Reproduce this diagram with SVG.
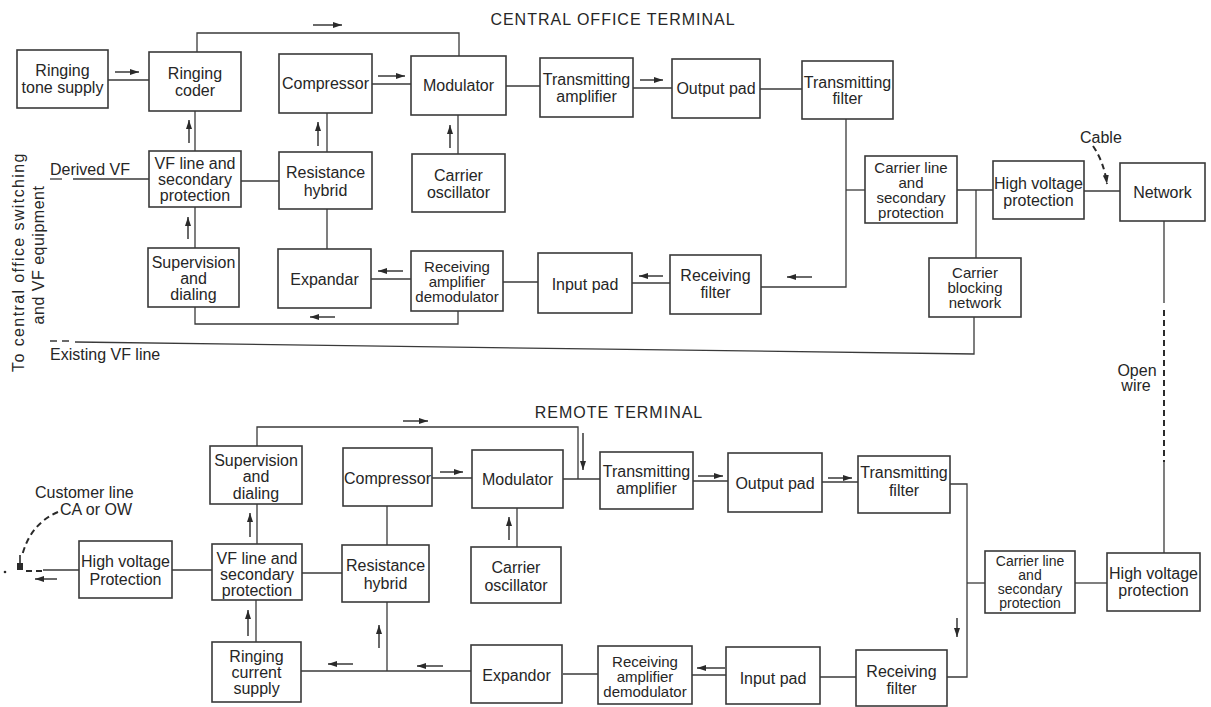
<svg xmlns="http://www.w3.org/2000/svg" width="1211" height="707" viewBox="0 0 1211 707">
<style>
  .box { fill: none; stroke: #3a3a3a; stroke-width: 1.6; }
  .ln { fill: none; stroke: #3a3a3a; stroke-width: 1.3; }
  .dash { fill: none; stroke: #2a2a2a; stroke-width: 2; stroke-dasharray: 6 4; }
  .arr { fill: none; stroke: #2a2a2a; stroke-width: 1.4; marker-end: url(#ah); }
  text { font-family: "Liberation Sans", Arial, sans-serif; fill: #262626; }
  .t { font-size: 16px; text-anchor: middle; }
  .s { font-size: 15px; text-anchor: middle; }
  .xs { font-size: 14px; text-anchor: middle; }
  .lbl { font-size: 16px; }
  .title { font-size: 16px; text-anchor: middle; letter-spacing: 1px; }
</style>
<defs>
  <marker id="ah" markerUnits="userSpaceOnUse" markerWidth="9" markerHeight="7" refX="9" refY="3.5" orient="auto">
    <path d="M0,0.5 L9,3.5 L0,6.5 z" fill="#2a2a2a"/>
  </marker>
</defs>
<rect width="1211" height="707" fill="#ffffff"/>

<!-- Titles and free labels -->
<g id="labels">
  <text class="title" x="613" y="25">CENTRAL OFFICE TERMINAL</text>
  <text class="title" x="619" y="418">REMOTE TERMINAL</text>
  <text class="lbl" x="50" y="175">Derived VF</text>
  <text class="lbl" x="50" y="360">Existing VF line</text>
  <text class="lbl" x="1080" y="143">Cable</text>
  <text class="lbl" x="1137" y="376" text-anchor="middle">Open</text>
  <text class="lbl" x="1136" y="391" text-anchor="middle">wire</text>
  <text class="lbl" x="35" y="498">Customer line</text>
  <text class="lbl" x="60" y="515">CA or OW</text>
  <text class="lbl" transform="translate(24,262) rotate(-90)" text-anchor="middle" letter-spacing="1.4">To central office switching</text>
  <text class="lbl" transform="translate(44,255) rotate(-90)" text-anchor="middle" letter-spacing="0.5">and VF equipment</text>
</g>

<!-- Connectors -->
<g id="connectors">
  <!-- central office -->
  <path class="ln" d="M108,80 H149"/>
  <path class="ln" d="M197,52 V33 H459 V56"/>
  <path class="ln" d="M372,84 H411"/>
  <path class="ln" d="M506,86 H540"/>
  <path class="ln" d="M633,88 H672"/>
  <path class="ln" d="M760,89 H802"/>
  <path class="ln" d="M195,111 V151"/>
  <path class="ln" d="M327,113 V152"/>
  <path class="ln" d="M458,115 V154"/>
  <path class="ln" d="M73,179 H149"/>
  <path class="ln" d="M50,179 H62"/>
  <path class="ln" d="M241,181 H279"/>
  <path class="ln" d="M195,207 V248"/>
  <path class="ln" d="M327,209 V249"/>
  <path class="ln" d="M371,279 H411"/>
  <path class="ln" d="M503,282 H538"/>
  <path class="ln" d="M632,283 H670"/>
  <path class="ln" d="M846,119 V287 H761"/>
  <path class="ln" d="M846,190 H865"/>
  <path class="ln" d="M957,190 H993"/>
  <path class="ln" d="M976,190 V258"/>
  <path class="ln" d="M1084,191 H1120"/>
  <path class="ln" d="M195,307 V324 H458 V311"/>
  <path class="ln" d="M974,317 V354 L75,342"/>
  <path class="ln" d="M50,341 H57 M62,341 H69"/>
  <path class="ln" d="M1164,221 V303"/>
  <path class="dash" d="M1164,310 V462"/>
  <path class="ln" d="M1164,462 V553"/>
  <path class="dash" d="M1093,146 Q1104,162 1107,184" marker-end="url(#ah)"/>
  <!-- remote -->
  <path class="ln" d="M257,446 V427 H578 V479"/>
  <path class="ln" d="M432,478 H472"/>
  <path class="ln" d="M563,479 H600"/>
  <path class="ln" d="M693,481 H728"/>
  <path class="ln" d="M822,482 H858"/>
  <path class="ln" d="M950,484 H967 V677 H947"/>
  <path class="ln" d="M967,583 H985"/>
  <path class="ln" d="M1075,583 H1107"/>
  <path class="ln" d="M257,504 V544"/>
  <path class="ln" d="M387,506 V545"/>
  <path class="ln" d="M517,508 V547"/>
  <path class="ln" d="M172,570 H212"/>
  <path class="ln" d="M302,573 H342"/>
  <path class="ln" d="M256,600 V642"/>
  <path class="ln" d="M387,602 V671"/>
  <path class="ln" d="M301,671 H471"/>
  <path class="ln" d="M563,674 H598"/>
  <path class="ln" d="M692,675 H726"/>
  <path class="ln" d="M820,677 H856"/>
  <path class="ln" d="M43,570 H79"/>
  <path class="dash" d="M26,571 H43"/>
  <path class="dash" d="M58,512 Q30,524 22,556"/>
  <path d="M20,555 V563" stroke="#2a2a2a" stroke-width="1.6" fill="none"/>
  <rect x="17" y="563" width="6" height="7" fill="#2a2a2a"/>
  <circle cx="5" cy="572" r="1.3" fill="#2a2a2a"/>

  <!-- signal direction arrows: central -->
  <path class="arr" d="M115,72 H139"/>
  <path class="arr" d="M313,25 H342"/>
  <path class="arr" d="M378,76 H405"/>
  <path class="arr" d="M640,80 H663"/>
  <path class="arr" d="M189,143 V120"/>
  <path class="arr" d="M318,146 V122"/>
  <path class="arr" d="M450,148 V125"/>
  <path class="arr" d="M188,239 V217"/>
  <path class="arr" d="M403,271 H378"/>
  <path class="arr" d="M335,317 H310"/>
  <path class="arr" d="M663,276 H639"/>
  <path class="arr" d="M812,277 H787"/>
  <!-- signal direction arrows: remote -->
  <path class="arr" d="M403,421 H428"/>
  <path class="arr" d="M583,433 V470"/>
  <path class="arr" d="M440,472 H463"/>
  <path class="arr" d="M698,476 H723"/>
  <path class="arr" d="M828,478 H852"/>
  <path class="arr" d="M250,537 V513"/>
  <path class="arr" d="M509,540 V517"/>
  <path class="arr" d="M248,636 V610"/>
  <path class="arr" d="M379,648 V625"/>
  <path class="arr" d="M353,664 H328"/>
  <path class="arr" d="M443,666 H417"/>
  <path class="arr" d="M725,668 H697"/>
  <path class="arr" d="M57,579 H35"/>
  <path class="arr" d="M957,618 V637"/>
</g>

<!-- Central office terminal nodes -->
<g id="ringing-tone-supply"><rect class="box" x="17" y="50" width="91" height="58"/>
  <text class="t"><tspan x="62.5" y="76">Ringing</tspan><tspan x="62.5" y="93">tone supply</tspan></text></g>
<g id="ringing-coder"><rect class="box" x="149" y="52" width="92" height="59"/>
  <text class="t"><tspan x="195" y="78.5">Ringing</tspan><tspan x="195" y="95.5">coder</tspan></text></g>
<g id="compressor-c"><rect class="box" x="279" y="54" width="93" height="59"/>
  <text class="t" x="325.5" y="89">Compressor</text></g>
<g id="modulator-c"><rect class="box" x="411" y="56" width="95" height="59"/>
  <text class="t" x="458.5" y="91">Modulator</text></g>
<g id="tx-amp-c"><rect class="box" x="540" y="58" width="93" height="59"/>
  <text class="t"><tspan x="586.5" y="84.5">Transmitting</tspan><tspan x="586.5" y="101.5">amplifier</tspan></text></g>
<g id="output-pad-c"><rect class="box" x="672" y="59" width="88" height="59"/>
  <text class="t" x="716" y="94">Output pad</text></g>
<g id="tx-filter-c"><rect class="box" x="802" y="61" width="91" height="58"/>
  <text class="t"><tspan x="847.5" y="87.5">Transmitting</tspan><tspan x="847.5" y="104">filter</tspan></text></g>
<g id="vf-line-c"><rect class="box" x="149" y="151" width="92" height="56"/>
  <text class="t"><tspan x="195" y="168.5">VF line and</tspan><tspan x="195" y="184.5">secondary</tspan><tspan x="195" y="200.5">protection</tspan></text></g>
<g id="res-hybrid-c"><rect class="box" x="279" y="152" width="93" height="57"/>
  <text class="t"><tspan x="325.5" y="178">Resistance</tspan><tspan x="325.5" y="195.5">hybrid</tspan></text></g>
<g id="carrier-osc-c"><rect class="box" x="412" y="154" width="93" height="58"/>
  <text class="t"><tspan x="458.5" y="180.5">Carrier</tspan><tspan x="458.5" y="197.5">oscillator</tspan></text></g>
<g id="carrier-line-c"><rect class="box" x="865" y="156" width="92" height="67"/>
  <text class="s"><tspan x="911" y="172.5">Carrier line</tspan><tspan x="911" y="187.5">and</tspan><tspan x="911" y="202.5">secondary</tspan><tspan x="911" y="217.5">protection</tspan></text></g>
<g id="hv-protection-c"><rect class="box" x="993" y="161" width="91" height="58"/>
  <text class="t"><tspan x="1038.5" y="188.5">High voltage</tspan><tspan x="1038.5" y="205.5">protection</tspan></text></g>
<g id="network"><rect class="box" x="1120" y="163" width="85" height="58"/>
  <text class="t" x="1162.5" y="197.5">Network</text></g>
<g id="carrier-blocking"><rect class="box" x="929" y="258" width="92" height="59"/>
  <text class="s"><tspan x="975" y="278">Carrier</tspan><tspan x="975" y="293">blocking</tspan><tspan x="975" y="308">network</tspan></text></g>
<g id="supervision-c"><rect class="box" x="148" y="248" width="91" height="59"/>
  <text class="t"><tspan x="193.5" y="267.5">Supervision</tspan><tspan x="193.5" y="283.5">and</tspan><tspan x="193.5" y="299.5">dialing</tspan></text></g>
<g id="expandar"><rect class="box" x="278" y="249" width="93" height="59"/>
  <text class="t" x="324.5" y="284.5">Expandar</text></g>
<g id="rx-amp-c"><rect class="box" x="411" y="251" width="92" height="60"/>
  <text class="s"><tspan x="457" y="272">Receiving</tspan><tspan x="457" y="287">amplifier</tspan><tspan x="457" y="302">demodulator</tspan></text></g>
<g id="input-pad-c"><rect class="box" x="538" y="253" width="94" height="60"/>
  <text class="t" x="585" y="289.5">Input pad</text></g>
<g id="rx-filter-c"><rect class="box" x="670" y="255" width="91" height="59"/>
  <text class="t"><tspan x="715.5" y="280.5">Receiving</tspan><tspan x="715.5" y="298">filter</tspan></text></g>

<!-- Remote terminal nodes -->
<g id="supervision-r"><rect class="box" x="210" y="446" width="92" height="58"/>
  <text class="t"><tspan x="256" y="465.5">Supervision</tspan><tspan x="256" y="482">and</tspan><tspan x="256" y="498.5">dialing</tspan></text></g>
<g id="compressor-r"><rect class="box" x="343" y="448" width="89" height="58"/>
  <text class="t" x="387.5" y="483.5">Compressor</text></g>
<g id="modulator-r"><rect class="box" x="472" y="450" width="91" height="58"/>
  <text class="t" x="517.5" y="484.5">Modulator</text></g>
<g id="tx-amp-r"><rect class="box" x="600" y="452" width="93" height="57"/>
  <text class="t"><tspan x="646.5" y="476.5">Transmitting</tspan><tspan x="646.5" y="493.5">amplifier</tspan></text></g>
<g id="output-pad-r"><rect class="box" x="728" y="453" width="94" height="59"/>
  <text class="t" x="775" y="488.5">Output pad</text></g>
<g id="tx-filter-r"><rect class="box" x="858" y="456" width="92" height="57"/>
  <text class="t"><tspan x="904" y="478">Transmitting</tspan><tspan x="904" y="496">filter</tspan></text></g>
<g id="hv-protection-cust"><rect class="box" x="79" y="541" width="93" height="57"/>
  <text class="t"><tspan x="125.5" y="567">High voltage</tspan><tspan x="125.5" y="585">Protection</tspan></text></g>
<g id="vf-line-r"><rect class="box" x="212" y="544" width="90" height="56"/>
  <text class="t"><tspan x="257" y="563.5">VF line and</tspan><tspan x="257" y="579.5">secondary</tspan><tspan x="257" y="595.5">protection</tspan></text></g>
<g id="res-hybrid-r"><rect class="box" x="342" y="545" width="87" height="57"/>
  <text class="t"><tspan x="385.5" y="570.5">Resistance</tspan><tspan x="385.5" y="588.5">hybrid</tspan></text></g>
<g id="carrier-osc-r"><rect class="box" x="471" y="547" width="90" height="56"/>
  <text class="t"><tspan x="516" y="572.5">Carrier</tspan><tspan x="516" y="591">oscillator</tspan></text></g>
<g id="carrier-line-r"><rect class="box" x="985" y="551" width="90" height="62"/>
  <text class="xs"><tspan x="1030" y="566">Carrier line</tspan><tspan x="1030" y="580">and</tspan><tspan x="1030" y="594">secondary</tspan><tspan x="1030" y="608">protection</tspan></text></g>
<g id="hv-protection-r"><rect class="box" x="1107" y="553" width="93" height="58"/>
  <text class="t"><tspan x="1153.5" y="579">High voltage</tspan><tspan x="1153.5" y="596">protection</tspan></text></g>
<g id="ringing-current"><rect class="box" x="212" y="642" width="89" height="60"/>
  <text class="t"><tspan x="256.5" y="661.5">Ringing</tspan><tspan x="256.5" y="677.5">current</tspan><tspan x="256.5" y="693.5">supply</tspan></text></g>
<g id="expandor"><rect class="box" x="471" y="645" width="91" height="58"/>
  <text class="t" x="516.5" y="680.5">Expandor</text></g>
<g id="rx-amp-r"><rect class="box" x="598" y="646" width="94" height="58"/>
  <text class="s"><tspan x="645" y="667">Receiving</tspan><tspan x="645" y="682">amplifier</tspan><tspan x="645" y="697">demodulator</tspan></text></g>
<g id="input-pad-r"><rect class="box" x="726" y="647" width="94" height="57"/>
  <text class="t" x="773" y="683.5">Input pad</text></g>
<g id="rx-filter-r"><rect class="box" x="856" y="650" width="91" height="56"/>
  <text class="t"><tspan x="901.5" y="676.5">Receiving</tspan><tspan x="901.5" y="693.5">filter</tspan></text></g>
</svg>
